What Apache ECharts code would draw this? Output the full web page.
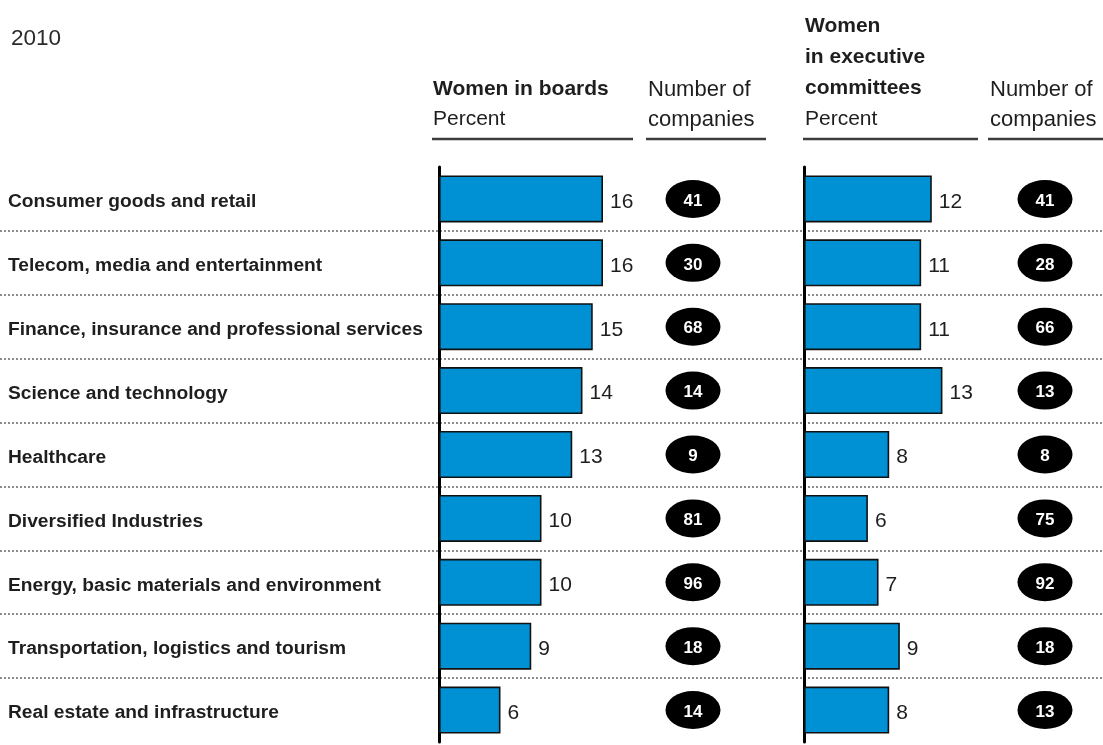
<!DOCTYPE html>
<html>
<head>
<meta charset="utf-8">
<title>Women in boards and executive committees, 2010</title>
<script src="https://cdn.jsdelivr.net/npm/echarts@6/dist/echarts.min.js"></script>
<style>
  html, body { margin: 0; padding: 0; background: #ffffff; }
  #chart { width: 1103px; height: 745px; }
</style>
</head>
<body>
<div id="chart"></div>
<script>
// Sectors, top to bottom
const categories = [
  'Consumer goods and retail',
  'Telecom, media and entertainment',
  'Finance, insurance and professional services',
  'Science and technology',
  'Healthcare',
  'Diversified Industries',
  'Energy, basic materials and environment',
  'Transportation, logistics and tourism',
  'Real estate and infrastructure'
];
// Share of women in boards, percent
const boardPct = [16, 16, 15, 14, 13, 10, 10, 9, 6];
// Number of companies behind the board figures
const boardCompanies = [41, 30, 68, 14, 9, 81, 96, 18, 14];
// Share of women in executive committees, percent
const execPct = [12, 11, 11, 13, 8, 6, 7, 9, 8];
// Number of companies behind the executive-committee figures
const execCompanies = [41, 28, 66, 13, 8, 75, 92, 18, 13];

const FONT = '"Liberation Sans", Arial, Helvetica, sans-serif';
const TEXT = '#1e1e1e';
const BLUE = '#0091d5';

// Row band geometry shared by every grid
const ROWS_TOP = 167;
const ROWS_H = 575;

const ELLIPSE = 'path://M0 50A50 50 0 1 1 100 50A50 50 0 1 1 0 50Z';

function bandGrid(left, width) {
  return { left: left, width: width, top: ROWS_TOP, height: ROWS_H, containLabel: false };
}
function hiddenValueX(gridIndex, max) {
  return { type: 'value', gridIndex: gridIndex, min: 0, max: max, show: false };
}
function categoryY(gridIndex, extra) {
  return Object.assign({
    type: 'category', gridIndex: gridIndex, data: categories, inverse: true,
    axisTick: { show: false }, axisLabel: { show: false },
    axisLine: { show: false }, splitLine: { show: false }
  }, extra || {});
}

function barSeries(xi, values) {
  return {
    type: 'bar', xAxisIndex: xi, yAxisIndex: xi, data: values,
    barWidth: 47,
    itemStyle: { color: BLUE, borderColor: '#111', borderWidth: 1.6 },
    label: {
      show: true, position: 'right', distance: 7, offset: [0, 3],
      color: TEXT, fontFamily: FONT, fontSize: 21
    },
    silent: true, animation: false, z: 3
  };
}
function badgeSeries(xi, counts) {
  return {
    type: 'scatter', xAxisIndex: xi, yAxisIndex: xi,
    data: counts.map((c, i) => ({ value: [0.5, categories[i]], count: c })),
    symbol: ELLIPSE, symbolSize: [55, 38],
    itemStyle: { color: '#000', opacity: 1 },
    label: {
      show: true, position: 'inside', offset: [0, 2],
      formatter: p => String(p.data.count),
      color: '#fff', fontFamily: FONT, fontWeight: 'bold', fontSize: 17
    },
    silent: true, animation: false, z: 4
  };
}

function headTitle(text, left, top, bold, size) {
  return {
    text: text, left: left, top: top, padding: 0,
    textStyle: { fontFamily: FONT, fontSize: size, fontWeight: bold ? 'bold' : 'normal', color: TEXT }
  };
}

const option = {
  backgroundColor: '#ffffff',
  animation: false,
  title: [
    { text: '2010', left: 11, top: 27, padding: 0,
      textStyle: { fontFamily: FONT, fontSize: 22.5, fontWeight: 'normal', color: '#2a2a2a' } },
    headTitle('Women in boards', 433, 79, true, 21),
    headTitle('Percent', 433, 109, false, 21),
    headTitle('Number of', 648, 79, false, 22),
    headTitle('companies', 648, 109, false, 22),
    headTitle('Women', 805, 16, true, 21),
    headTitle('in executive', 805, 47, true, 21),
    headTitle('committees', 805, 78, true, 21),
    headTitle('Percent', 805, 109, false, 21),
    headTitle('Number of', 990, 79, false, 22),
    headTitle('companies', 990, 109, false, 22)
  ],
  graphic: [
    { type: 'line', shape: { x1: 432, y1: 139, x2: 633, y2: 139 }, style: { stroke: '#3c3c3c', lineWidth: 2.5 } },
    { type: 'line', shape: { x1: 646, y1: 139, x2: 766, y2: 139 }, style: { stroke: '#3c3c3c', lineWidth: 2.5 } },
    { type: 'line', shape: { x1: 803, y1: 139, x2: 978, y2: 139 }, style: { stroke: '#3c3c3c', lineWidth: 2.5 } },
    { type: 'line', shape: { x1: 988, y1: 139, x2: 1103, y2: 139 }, style: { stroke: '#3c3c3c', lineWidth: 2.5 } }
  ],
  grid: [
    bandGrid(439, 205),   // women in boards bars
    bandGrid(804, 213),   // women in executive committees bars
    bandGrid(663, 60),    // board company counts
    bandGrid(1017, 56),   // executive company counts
    { left: 0, right: 0, top: ROWS_TOP, height: ROWS_H } // row separators
  ],
  xAxis: [
    hiddenValueX(0, 20),
    hiddenValueX(1, 20),
    hiddenValueX(2, 1),
    hiddenValueX(3, 1),
    hiddenValueX(4, 1)
  ],
  yAxis: [
    categoryY(0, {
      axisLine: { show: true, onZero: false, lineStyle: { color: '#000', width: 3 } },
      axisLabel: {
        show: true, align: 'left', margin: 431,
        verticalAlign: 'top', lineHeight: 6,
        color: TEXT, fontFamily: FONT, fontWeight: 'bold', fontSize: 19.2
      }
    }),
    categoryY(1, {
      axisLine: { show: true, onZero: false, lineStyle: { color: '#000', width: 3 } }
    }),
    categoryY(2),
    categoryY(3),
    {
      type: 'value', gridIndex: 4, min: 0, max: categories.length, interval: 1, inverse: true,
      axisLine: { show: false }, axisTick: { show: false }, axisLabel: { show: false },
      splitLine: {
        show: true, showMinLine: false, showMaxLine: false,
        lineStyle: { color: '#8c8c8c', width: 2, type: [2, 2] }
      }
    }
  ],
  series: [
    barSeries(0, boardPct),
    barSeries(1, execPct),
    badgeSeries(2, boardCompanies),
    badgeSeries(3, execCompanies)
  ]
};

const chart = echarts.init(document.getElementById('chart'), null, { renderer: 'canvas' });
chart.setOption(option);
</script>
</body>
</html>
